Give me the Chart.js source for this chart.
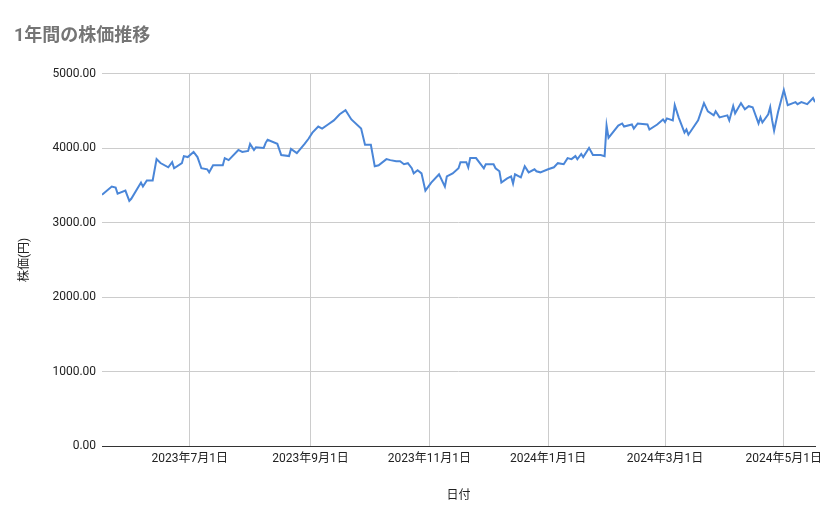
<!DOCTYPE html>
<html>
<head>
<meta charset="utf-8">
<script src="https://cdn.jsdelivr.net/npm/chart.js@4/dist/chart.umd.min.js"></script>
<style>
  html, body { margin: 0; padding: 0; background: #fff; }
  #wrap { width: 839px; height: 519px; }
</style>
</head>
<body>
<div id="wrap"><canvas id="stockChart" width="839" height="519"></canvas></div>
<script>
// 1年間の株価推移 data
const dates = [
  "2023-05-17","2023-05-22","2023-05-24","2023-05-25","2023-05-29","2023-05-31","2023-06-01","2023-06-06","2023-06-07","2023-06-09",
  "2023-06-12","2023-06-14","2023-06-16","2023-06-20","2023-06-22","2023-06-23","2023-06-27","2023-06-28","2023-06-30","2023-07-03",
  "2023-07-05","2023-07-07","2023-07-10","2023-07-11","2023-07-13","2023-07-18","2023-07-19","2023-07-21","2023-07-26","2023-07-28",
  "2023-07-31","2023-08-01","2023-08-03","2023-08-04","2023-08-08","2023-08-09","2023-08-10","2023-08-15","2023-08-17","2023-08-21",
  "2023-08-22","2023-08-25","2023-08-29","2023-08-31","2023-09-02","2023-09-05","2023-09-07","2023-09-10","2023-09-13","2023-09-16",
  "2023-09-19","2023-09-22","2023-09-27","2023-09-29","2023-10-02","2023-10-04","2023-10-06","2023-10-10","2023-10-12","2023-10-15",
  "2023-10-17","2023-10-19","2023-10-21","2023-10-23","2023-10-24","2023-10-26","2023-10-28","2023-10-30","2023-11-02","2023-11-06",
  "2023-11-09","2023-11-10","2023-11-13","2023-11-16","2023-11-17","2023-11-20","2023-11-21","2023-11-22","2023-11-25","2023-11-29",
  "2023-11-30","2023-12-04","2023-12-05","2023-12-07","2023-12-08","2023-12-11","2023-12-13","2023-12-14","2023-12-15","2023-12-18",
  "2023-12-20","2023-12-22","2023-12-25","2023-12-26","2023-12-28","2024-01-01","2024-01-04","2024-01-06","2024-01-09","2024-01-11",
  "2024-01-13","2024-01-15","2024-01-16","2024-01-18","2024-01-19","2024-01-22","2024-01-24","2024-01-28","2024-01-30","2024-01-31",
  "2024-02-01","2024-02-06","2024-02-08","2024-02-09","2024-02-13","2024-02-14","2024-02-16","2024-02-21","2024-02-22","2024-02-26",
  "2024-02-29","2024-03-01","2024-03-02","2024-03-05","2024-03-06","2024-03-08","2024-03-11","2024-03-12","2024-03-13","2024-03-18",
  "2024-03-21","2024-03-23","2024-03-26","2024-03-27","2024-03-29","2024-04-02","2024-04-03","2024-04-05","2024-04-06","2024-04-09",
  "2024-04-11","2024-04-13","2024-04-15","2024-04-18","2024-04-19","2024-04-20","2024-04-23","2024-04-24","2024-04-25","2024-04-26",
  "2024-04-28","2024-05-01","2024-05-03","2024-05-07","2024-05-08","2024-05-10","2024-05-13","2024-05-16","2024-05-17"
];
const prices = [
  3374,3484,3470,3388,3429,3292,3320,3538,3484,3566,
  3566,3852,3800,3743,3811,3730,3798,3893,3880,3948,
  3880,3730,3716,3675,3770,3770,3866,3839,3975,3948,
  3962,4057,3975,4010,4003,4071,4112,4057,3907,3893,
  3989,3934,4057,4126,4208,4290,4262,4317,4372,4454,
  4508,4385,4262,4044,4044,3757,3770,3852,3839,3825,
  3825,3784,3798,3730,3661,3702,3661,3429,3538,3648,
  3484,3620,3661,3730,3811,3811,3740,3866,3866,3730,
  3784,3784,3730,3689,3538,3593,3620,3525,3648,3607,
  3757,3675,3716,3689,3675,3716,3743,3798,3784,3866,
  3852,3893,3850,3921,3880,4003,3907,3907,3893,4303,
  4139,4303,4331,4290,4317,4262,4331,4317,4249,4317,
  4385,4350,4399,4372,4576,4413,4208,4250,4180,4372,
  4604,4494,4440,4494,4413,4440,4372,4563,4467,4604,
  4522,4563,4549,4331,4413,4344,4454,4549,4372,4235,
  4481,4781,4576,4617,4590,4617,4590,4672,4617
];
const xTickDates = ["2023-07-01","2023-09-01","2023-11-01","2024-01-01","2024-03-01","2024-05-01"];
const yTicks = [0, 1000, 2000, 3000, 4000, 5000];

const FONT = "Roboto, 'Noto Sans CJK JP', sans-serif";
const points = dates.map((d, i) => ({ x: Date.parse(d), y: prices[i] }));

function fmtDate(ms) {
  const d = new Date(ms);
  return d.getUTCFullYear() + "年" + (d.getUTCMonth() + 1) + "月" + d.getUTCDate() + "日";
}

new Chart(document.getElementById("stockChart").getContext("2d"), {
  type: "line",
  data: {
    datasets: [{
      label: "株価",
      data: points,
      borderColor: "#4a86d8",
      borderWidth: 2,
      pointRadius: 0,
      tension: 0,
      fill: false,
    }],
  },
  options: {
    responsive: false,
    animation: false,
    layout: { padding: { left: 14, right: 24, top: 4, bottom: 12 } },
    plugins: {
      legend: { display: false },
      tooltip: { enabled: false },
      title: {
        display: true,
        text: "1年間の株価推移",
        align: "start",
        color: "#757575",
        font: { family: FONT, size: 18, weight: "bold" },
        padding: { top: 22, bottom: 26 },
      },
    },
    scales: {
      x: {
        type: "linear",
        min: Date.parse(dates[0]),
        max: Date.parse(dates[dates.length - 1]),
        afterBuildTicks: (axis) => {
          axis.ticks = xTickDates.map((d) => ({ value: Date.parse(d) }));
        },
        ticks: {
          callback: (v) => fmtDate(v),
          color: "#222",
          font: { family: FONT, size: 12 },
          maxRotation: 0,
          autoSkip: false,
          padding: 6,
        },
        grid: { color: "#cccccc", drawTicks: false },
        border: { color: "#333333", width: 1 },
        title: {
          display: true,
          text: "日付",
          color: "#222",
          font: { family: FONT, size: 12 },
          padding: { top: 16 },
        },
      },
      y: {
        min: 0,
        max: 5000,
        afterBuildTicks: (axis) => {
          axis.ticks = yTicks.map((v) => ({ value: v }));
        },
        ticks: {
          callback: (v) => v.toFixed(2),
          color: "#222",
          font: { family: FONT, size: 12 },
          padding: 6,
        },
        grid: { color: "#cccccc", drawTicks: false },
        border: { display: false },
        title: {
          display: true,
          text: "株価(円)",
          color: "#222",
          font: { family: FONT, size: 12 },
          padding: { bottom: 14 },
        },
      },
    },
  },
});
</script>
</body>
</html>
